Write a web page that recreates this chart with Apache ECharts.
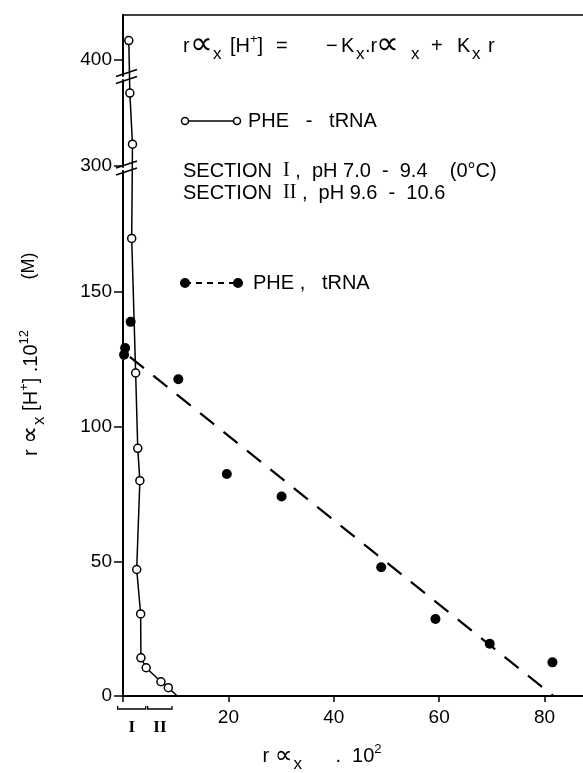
<!DOCTYPE html>
<html><head><meta charset="utf-8">
<script src="https://cdn.jsdelivr.net/npm/echarts@6/dist/echarts.min.js"></script>
<style>html,body{margin:0;padding:0;background:#fff}#c{width:583px;height:773px}</style>
</head><body><div id="c"></div>
<script>
// PHE - tRNA (open circles), from top to bottom
const pheTrnaOpen = [[1.1,407],[1.3,327],[1.8,308],[1.65,170],[2.4,120],[2.8,92],[3.2,80],[2.6,47],[3.35,30.5],[3.4,14.2],[4.4,10.5],[7.2,5.3],[8.6,3.1]];
const pheTrnaLineEnd = [10.3, 0];
// PHE , tRNA (filled circles)
const pheSolid = [[1.45,139],[0.4,129.3],[0.2,126.8],[10.5,117.7],[19.7,82.5],[30.1,74.1],[49.0,47.8],[59.3,28.6],[69.6,19.4],[81.5,12.5]];
// dashed fitted line end points
const fitLine = [[1.3,126],[81.7,0]];
const yTickValues = [0,50,100,150,300,400];
const xTickValues = [20,40,60,80];
const xTickMarks = [0,20,40,60,80];
const yBreaks = [[195,299.5],[332,394]];
const sections = [['I',-1.2,4.5],['II',4.5,9.5]];

const FONT = '"Liberation Sans", "DejaVu Sans", sans-serif';
const SERIF = '"Liberation Serif", "DejaVu Serif", serif';
const RICH = {
  t:{fontSize:20, fontFamily:FONT, color:'#000'},
  a:{fontSize:25, fontFamily:'"DejaVu Sans", sans-serif', color:'#000'},
  b:{fontSize:32, fontFamily:'"DejaVu Sans", sans-serif', color:'#000'},
  s:{fontSize:17, fontFamily:FONT, color:'#000', padding:[16,0,0,1]},
  p:{fontSize:13, fontFamily:FONT, color:'#000', padding:[0,0,14,0]},
  r:{fontSize:20, fontFamily:SERIF, color:'#000'}
};
// formula pieces: [x position, rich text]
const formulaPieces = [
  [183,'{t|r}'],[190,'{b|∝}'],[212,'{s|x}'],[230,'{t|[H}{p|+}{t|]}'],[276,'{t|=}'],
  [326,'{t|−}'],[341,'{t|K}'],[355,'{s|x}'],[365,'{t|.r}'],[376,'{b|∝}'],[410,'{s|x}'],
  [431,'{t|+}'],[457,'{t|K}'],[471,'{s|x}'],[488,'{t|r}']
];

const chart = echarts.init(document.getElementById('c'), null, {renderer:'canvas'});

const openSeriesData = pheTrnaOpen.map(p => ({value:p}));
openSeriesData.push({value: pheTrnaLineEnd, symbol:'none'});

function richText(x, y, text, extra) {
  return Object.assign({type:'text', x:x, y:y, style:{text:text, rich:RICH, fill:'#000', font:'20px '+FONT, align:'left', verticalAlign:'middle'}}, extra || {});
}

const graphics = formulaPieces.map(p => richText(p[0], 46, p[1]));
graphics.push(
  {type:'polyline', shape:{points:[[185,121],[237,121]]}, style:{stroke:'#000', lineWidth:1.3}},
  {type:'circle', shape:{cx:185, cy:121, r:3.5}, style:{fill:'#fff', stroke:'#000', lineWidth:1.5}},
  {type:'circle', shape:{cx:237, cy:121, r:3.5}, style:{fill:'#fff', stroke:'#000', lineWidth:1.5}},
  richText(248, 121, '{t|PHE   -   tRNA}'),
  richText(183, 171, '{t|SECTION  }{r|I}{t| ,  pH 7.0  -  9.4    (0°C)}'),
  richText(183, 193, '{t|SECTION  }{r|II}{t| ,  pH 9.6  -  10.6}'),
  {type:'polyline', shape:{points:[[185,283],[238,283]]}, style:{stroke:'#000', lineWidth:2, lineDash:[6,5]}},
  {type:'circle', shape:{cx:185, cy:283, r:5}, style:{fill:'#000'}},
  {type:'circle', shape:{cx:238, cy:283, r:5}, style:{fill:'#000'}},
  richText(253, 283, '{t|PHE ,   tRNA}'),
  {type:'text', x:31, y:393, rotation:Math.PI/2, style:{text:'{t|r }{a|∝}{s|x}{t| [H}{p|+}{t|] .10}{p|12}', rich:RICH, fill:'#000', font:'20px '+FONT, align:'center', verticalAlign:'middle'}},
  {type:'text', x:29, y:266, rotation:Math.PI/2, style:{text:'(M)', font:'18px '+FONT, fill:'#000', align:'center', verticalAlign:'middle'}},
  {type:'text', x:322, y:756, style:{text:'{t|r }{a|∝}{s|x}{t|      .  10}{p|2}', rich:RICH, fill:'#000', font:'20px '+FONT, align:'center', verticalAlign:'middle'}}
);

chart.setOption({
  backgroundColor:'#fff',
  animation:false,
  grid:{left:123, right:0, top:15, bottom:77, containLabel:false, outerBoundsMode:'none'},
  xAxis:[{
    type:'value', min:0, max:87.3, position:'bottom',
    axisLine:{show:true, onZero:false, lineStyle:{color:'#000', width:2}},
    axisTick:{show:true, customValues:xTickMarks, length:6, lineStyle:{color:'#000', width:1.5}},
    axisLabel:{customValues:xTickValues, color:'#000', fontSize:19, margin:12, fontFamily:FONT},
    splitLine:{show:false}
  },{
    type:'value', min:0, max:87.3, position:'top',
    axisLine:{show:true, onZero:false, lineStyle:{color:'#000', width:1.5}},
    axisTick:{show:false}, axisLabel:{show:false}, splitLine:{show:false}
  }],
  yAxis:{
    type:'value', min:0, max:416.5,
    breaks: yBreaks.map(b => ({start:b[0], end:b[1], gap:1.5})),
    breakArea:{show:false},
    axisLine:{show:true, onZero:false, lineStyle:{color:'#000', width:2}},
    axisTick:{show:true, customValues:yTickValues, length:9, lineStyle:{color:'#000', width:1.5}},
    axisLabel:{customValues:yTickValues, color:'#000', fontSize:19, margin:11, fontFamily:FONT},
    splitLine:{show:false}
  },
  series:[
    {
      name:'PHE - tRNA', type:'line', data:openSeriesData,
      symbol:'circle', symbolSize:8, showSymbol:true,
      lineStyle:{color:'#000', width:1.5},
      itemStyle:{color:'#fff', borderColor:'#000', borderWidth:1.5},
      z:3
    },
    {
      name:'fit', type:'line', data:fitLine, symbol:'none',
      lineStyle:{color:'#000', width:2.2, type:[18,12]}, z:2
    },
    {
      name:'PHE , tRNA', type:'scatter', data:pheSolid,
      symbol:'circle', symbolSize:10, itemStyle:{color:'#000', opacity:1}, z:4
    },
    {
      name:'breaks', type:'custom', clip:false, z:5,
      data: yBreaks.map(b => [0, b[0], b[1]]),
      encode:{x:0, y:1},
      renderItem:function(params, api){
        const a = api.coord([0, api.value(1)]);
        const b = api.coord([0, api.value(2)]);
        const x = a[0], cy = (a[1]+b[1])/2;
        return {type:'group', children:[
          {type:'line', shape:{x1:x-7, y1:cy-1, x2:x+14, y2:cy-8}, style:{stroke:'#000', lineWidth:1.6}},
          {type:'line', shape:{x1:x-7, y1:cy+6, x2:x+14, y2:cy-1}, style:{stroke:'#000', lineWidth:1.6}}
        ]};
      }
    },
    {
      name:'sections', type:'custom', clip:false, z:5,
      data: sections.map(s => ({name:s[0], value:[s[1], s[2]]})),
      encode:{x:[0,1]},
      renderItem:function(params, api){
        const p1 = api.coord([api.value(0), 0]);
        const p2 = api.coord([api.value(1), 0]);
        const y = p1[1] + 13;
        const label = sections[params.dataIndex][0];
        return {type:'group', children:[
          {type:'polyline', shape:{points:[[p1[0]+1,y-3],[p1[0]+1,y],[p2[0]-1,y],[p2[0]-1,y-3]]}, style:{stroke:'#000', lineWidth:1.3, fill:null}},
          {type:'text', x:(p1[0]+p2[0])/2, y:y+19, style:{text:label, font:'bold 17px '+SERIF, fill:'#000', align:'center', verticalAlign:'middle'}}
        ]};
      }
    }
  ],
  graphic:graphics
});
</script>
</body></html>
